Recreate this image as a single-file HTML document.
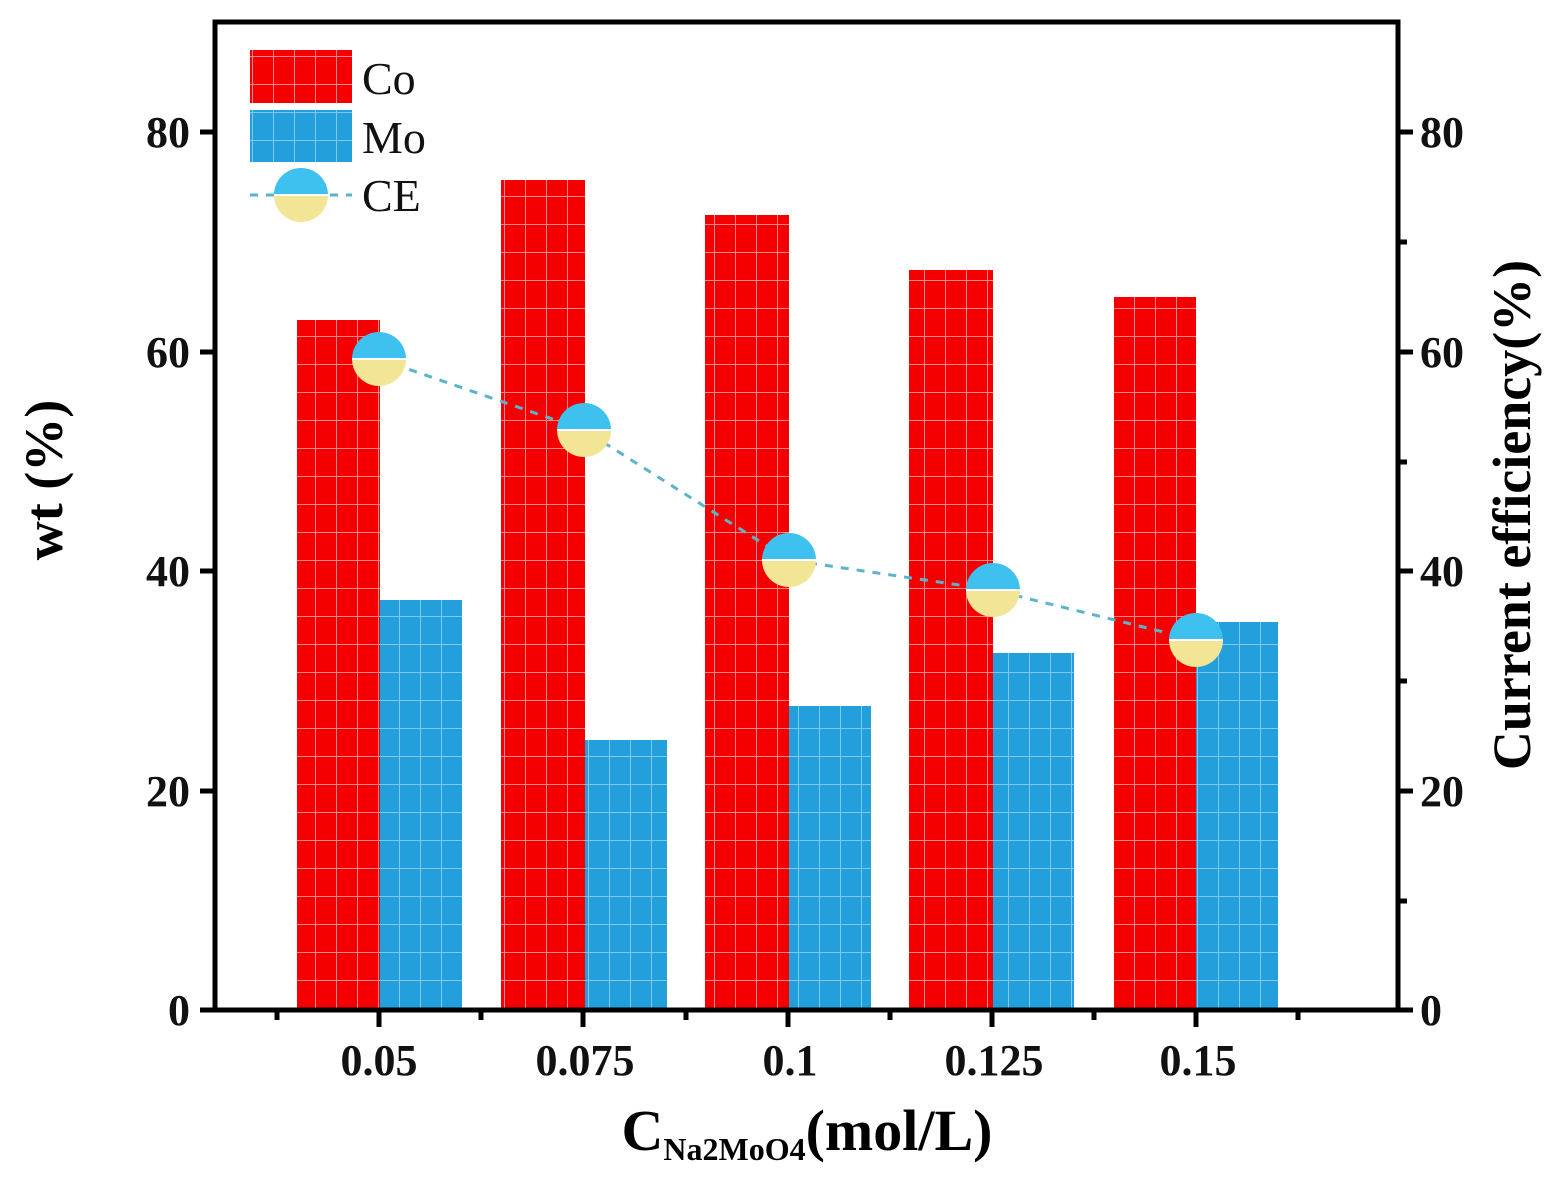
<!DOCTYPE html>
<html><head><style>
html,body{margin:0;padding:0;background:#fff;}
</style></head><body>
<svg width="1558" height="1194" xmlns="http://www.w3.org/2000/svg" font-family="Liberation Serif, serif">
<defs>
<pattern id="pr" width="21" height="28" patternUnits="userSpaceOnUse">
<rect width="21" height="28" fill="#f50000"/>
<path d="M0 0.5H21M0.5 0V28" stroke="#ff8a8a" stroke-width="1"/>
</pattern>
<pattern id="pb" width="21" height="28" patternUnits="userSpaceOnUse">
<rect width="21" height="28" fill="#239fdc"/>
<path d="M0 0.5H21M0.5 0V28" stroke="#7fc8ee" stroke-width="1"/>
</pattern>
<g id="m">
<path d="M-27 0A27 27 0 0 1 27 0Z" fill="#3ec1ee"/>
<path d="M-27 0A27 27 0 0 0 27 0Z" fill="#f2e596"/>
<line x1="-27" y1="0" x2="27" y2="0" stroke="#fff" stroke-width="2"/>
</g>
</defs>
<rect x="297" y="320" width="83" height="690" fill="url(#pr)"/>
<rect x="380" y="600" width="82" height="410" fill="url(#pb)"/>
<rect x="501" y="180" width="84" height="830" fill="url(#pr)"/>
<rect x="585" y="740" width="82" height="270" fill="url(#pb)"/>
<rect x="705" y="215" width="84" height="795" fill="url(#pr)"/>
<rect x="789" y="706" width="82" height="304" fill="url(#pb)"/>
<rect x="909" y="270" width="84" height="740" fill="url(#pr)"/>
<rect x="993" y="653" width="81" height="357" fill="url(#pb)"/>
<rect x="1114" y="297" width="82" height="713" fill="url(#pr)"/>
<rect x="1196" y="622" width="82" height="388" fill="url(#pb)"/>
<polyline points="379,359 584,430 789,560 993,590 1196,640" fill="none" stroke="#5bb4cc" stroke-width="3" stroke-dasharray="8,8"/>
<use href="#m" x="379" y="359"/>
<use href="#m" x="584" y="430"/>
<use href="#m" x="789" y="560"/>
<use href="#m" x="993" y="590"/>
<use href="#m" x="1196" y="640"/>
<rect x="215" y="22" width="1183" height="988" fill="none" stroke="#000" stroke-width="5"/>
<g stroke="#000" stroke-width="5">
<line x1="200" y1="132" x2="215" y2="132"/><line x1="200" y1="352" x2="215" y2="352"/><line x1="200" y1="571" x2="215" y2="571"/><line x1="200" y1="791" x2="215" y2="791"/><line x1="200" y1="1010" x2="215" y2="1010"/>
<line x1="1398" y1="132" x2="1413" y2="132"/><line x1="1398" y1="352" x2="1413" y2="352"/><line x1="1398" y1="571" x2="1413" y2="571"/><line x1="1398" y1="791" x2="1413" y2="791"/><line x1="1398" y1="1010" x2="1413" y2="1010"/>
<line x1="1398" y1="242" x2="1407" y2="242"/><line x1="1398" y1="462" x2="1407" y2="462"/><line x1="1398" y1="681" x2="1407" y2="681"/><line x1="1398" y1="901" x2="1407" y2="901"/>
<line x1="379" y1="1010" x2="379" y2="1027"/><line x1="583" y1="1010" x2="583" y2="1027"/><line x1="788" y1="1010" x2="788" y2="1027"/><line x1="992" y1="1010" x2="992" y2="1027"/><line x1="1196" y1="1010" x2="1196" y2="1027"/>
<line x1="277" y1="1010" x2="277" y2="1020"/><line x1="481" y1="1010" x2="481" y2="1020"/><line x1="686" y1="1010" x2="686" y2="1020"/><line x1="890" y1="1010" x2="890" y2="1020"/><line x1="1094" y1="1010" x2="1094" y2="1020"/><line x1="1298" y1="1010" x2="1298" y2="1020"/>
</g>
<g font-size="44" font-weight="bold" fill="#111">
<g text-anchor="end">
<text x="190" y="147">80</text><text x="190" y="367">60</text><text x="190" y="586">40</text><text x="190" y="806">20</text><text x="190" y="1025">0</text>
</g>
<text x="1420" y="147">80</text><text x="1420" y="367">60</text><text x="1420" y="586">40</text><text x="1420" y="806">20</text><text x="1420" y="1025">0</text>
<g text-anchor="middle">
<text x="379" y="1075">0.05</text><text x="585" y="1075">0.075</text><text x="790" y="1075">0.1</text><text x="994" y="1075">0.125</text><text x="1198" y="1075">0.15</text>
</g>
</g>
<text x="62" y="480" font-size="54" font-weight="bold" text-anchor="middle" transform="rotate(-90 62 480)">wt (%)</text>
<text x="1530" y="515" font-size="54" font-weight="bold" text-anchor="middle" transform="rotate(-90 1530 515)">Current efficiency(%)</text>
<text x="807" y="1150" font-size="58" font-weight="bold" text-anchor="middle">C<tspan font-size="32" dy="10">Na2MoO4</tspan><tspan dy="-10">(mol/L)</tspan></text>
<rect x="250" y="50" width="102" height="53" fill="url(#pr)"/>
<rect x="250" y="110" width="102" height="52" fill="url(#pb)"/>
<line x1="250" y1="195" x2="352" y2="195" stroke="#5bb4cc" stroke-width="3" stroke-dasharray="8,8"/>
<use href="#m" x="301" y="195"/>
<g font-size="46" fill="#111">
<text x="362" y="94">Co</text><text x="362" y="153">Mo</text><text x="362" y="211">CE</text>
</g>
</svg>
</body></html>
